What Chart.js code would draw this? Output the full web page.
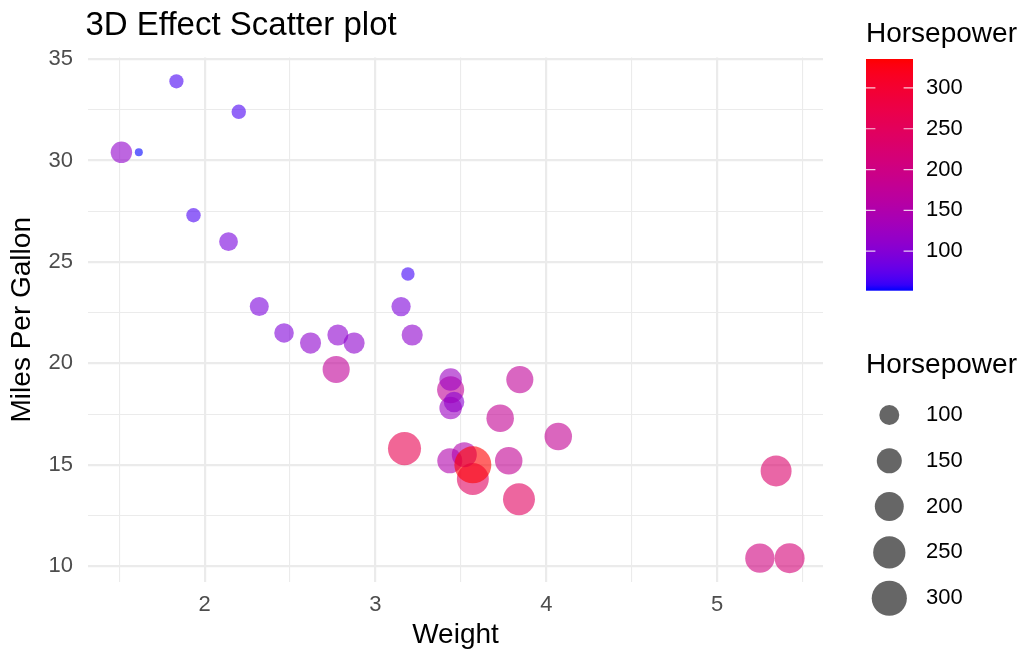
<!DOCTYPE html>
<html>
<head>
<meta charset="utf-8">
<title>3D Effect Scatter plot</title>
<script src="https://cdn.jsdelivr.net/npm/chart.js@4.4.1/dist/chart.umd.min.js"></script>
<style>
  html, body { margin: 0; padding: 0; background: #fff; }
  #wrap { width: 1029px; height: 654px; }
</style>
</head>
<body>
<div id="wrap"><canvas id="chart" width="1029" height="654"></canvas></div>
<script>
"use strict";
// mtcars: weight (1000 lbs), miles per gallon, gross horsepower
const weight = [2.620, 2.875, 2.320, 3.215, 3.440, 3.460, 3.570, 3.190, 3.150, 3.440, 3.440,
  4.070, 3.730, 3.780, 5.250, 5.424, 5.345, 2.200, 1.615, 1.835, 2.465, 3.520,
  3.435, 3.840, 3.845, 1.935, 2.140, 1.513, 3.170, 2.770, 3.570, 2.780];
const mpg = [21.0, 21.0, 22.8, 21.4, 18.7, 18.1, 14.3, 24.4, 22.8, 19.2, 17.8,
  16.4, 17.3, 15.2, 10.4, 10.4, 14.7, 32.4, 30.4, 33.9, 21.5, 15.5,
  15.2, 13.3, 19.2, 27.3, 26.0, 30.4, 15.8, 19.7, 15.0, 21.4];
const horsepower = [110, 110, 93, 110, 175, 105, 245, 62, 95, 123, 123,
  180, 180, 180, 205, 215, 230, 66, 52, 65, 97, 150,
  150, 245, 175, 66, 91, 113, 264, 175, 335, 109];

const xTicks = [1.5, 2, 2.5, 3, 3.5, 4, 4.5, 5, 5.5];
const yTicks = [10, 12.5, 15, 17.5, 20, 22.5, 25, 27.5, 30, 32.5, 35];
const legendBreaks = [100, 150, 200, 250, 300];

const chartTitle = "3D Effect Scatter plot";
const xTitle = "Weight";
const yTitle = "Miles Per Gallon";
const legendTitle = "Horsepower";

const FONT = "'Liberation Sans', Arial, sans-serif";
const ALPHA = 0.6;
const hpMin = Math.min(...horsepower);
const hpMax = Math.max(...horsepower);

// colour scale: blue -> red interpolated in Lab, like scale_colour_gradient
const WHITE = [0.95047, 1, 1.08883];
function toLinear(c) { c /= 255; return c <= 0.04045 ? c / 12.92 : Math.pow((c + 0.055) / 1.055, 2.4); }
function fromLinear(c) {
  const v = c <= 0.0031308 ? 12.92 * c : 1.055 * Math.pow(c, 1 / 2.4) - 0.055;
  return Math.round(Math.max(0, Math.min(1, v)) * 255);
}
function rgbToLab(rgb) {
  const R = toLinear(rgb[0]), G = toLinear(rgb[1]), B = toLinear(rgb[2]);
  const X = (R * 0.4124564 + G * 0.3575761 + B * 0.1804375) / WHITE[0];
  const Y = (R * 0.2126729 + G * 0.7151522 + B * 0.0721750) / WHITE[1];
  const Z = (R * 0.0193339 + G * 0.1191920 + B * 0.9503041) / WHITE[2];
  const f = t => t > 0.008856 ? Math.cbrt(t) : (7.787 * t + 16 / 116);
  const fx = f(X), fy = f(Y), fz = f(Z);
  return [116 * fy - 16, 500 * (fx - fy), 200 * (fy - fz)];
}
function labToRgb(lab) {
  const fy = (lab[0] + 16) / 116, fx = fy + lab[1] / 500, fz = fy - lab[2] / 200;
  const inv = t => t * t * t > 0.008856 ? t * t * t : (t - 16 / 116) / 7.787;
  const X = inv(fx) * WHITE[0], Y = inv(fy) * WHITE[1], Z = inv(fz) * WHITE[2];
  const R = X * 3.2404542 - Y * 1.5371385 - Z * 0.4985314;
  const G = -X * 0.9692660 + Y * 1.8760108 + Z * 0.0415560;
  const B = X * 0.0556434 - Y * 0.2040259 + Z * 1.0572252;
  return [fromLinear(R), fromLinear(G), fromLinear(B)];
}
const labLow = rgbToLab([0, 0, 255]);
const labHigh = rgbToLab([255, 0, 0]);
function hpColor(hp, alpha) {
  const t = (hp - hpMin) / (hpMax - hpMin);
  const c = labToRgb(labLow.map((v, i) => v + (labHigh[i] - v) * t));
  return `rgba(${c[0]},${c[1]},${c[2]},${alpha})`;
}
// size scale: area proportional, radius 4..18.5 px
function hpRadius(hp) {
  return 4 + 14.5 * Math.sqrt((hp - hpMin) / (hpMax - hpMin));
}

const isMajorX = v => Math.abs(v - Math.round(v)) < 1e-9;
const isMajorY = v => Math.abs(v / 5 - Math.round(v / 5)) < 1e-9;

const legendPlugin = {
  id: "legends",
  afterDraw(chart) {
    const ctx = chart.ctx;
    ctx.save();
    // plot title
    ctx.fillStyle = "#000";
    ctx.font = `33px ${FONT}`;
    ctx.textAlign = "left";
    ctx.textBaseline = "alphabetic";
    ctx.fillText(chartTitle, 85.5, 35);

    // colour bar
    ctx.font = `28px ${FONT}`;
    ctx.fillText(legendTitle, 866, 41.7);
    const barL = 866, barR = 913, barT = 59, barB = 290.7;
    const grad = ctx.createLinearGradient(0, barB, 0, barT);
    for (let i = 0; i <= 40; i++) {
      const hp = hpMin + (hpMax - hpMin) * i / 40;
      grad.addColorStop(i / 40, hpColor(hp, 1));
    }
    ctx.fillStyle = grad;
    ctx.fillRect(barL, barT, barR - barL, barB - barT);
    const barH = barB - barT;
    const nbin = 300;
    const tickY = v => barB - (((v - hpMin) / (hpMax - hpMin)) * (nbin - 1) / nbin + 0.5 / nbin) * barH;
    ctx.strokeStyle = "rgba(255,255,255,0.8)";
    ctx.lineWidth = 1.2;
    ctx.font = `22px ${FONT}`;
    ctx.textBaseline = "middle";
    legendBreaks.forEach(v => {
      const y = tickY(v);
      ctx.beginPath();
      ctx.moveTo(barL, y); ctx.lineTo(barL + 9.4, y);
      ctx.moveTo(barR - 9.4, y); ctx.lineTo(barR, y);
      ctx.stroke();
      ctx.fillStyle = "#000";
      ctx.fillText(String(v), 926, y);
    });

    // size legend
    ctx.textBaseline = "alphabetic";
    ctx.font = `28px ${FONT}`;
    ctx.fillText(legendTitle, 866, 373.3);
    ctx.font = `22px ${FONT}`;
    ctx.textBaseline = "middle";
    legendBreaks.forEach((v, i) => {
      const cy = 415 + 45.8 * i;
      ctx.beginPath();
      ctx.arc(889.3, cy, hpRadius(v), 0, Math.PI * 2);
      ctx.fillStyle = `rgba(0,0,0,${ALPHA})`;
      ctx.fill();
      ctx.fillStyle = "#000";
      ctx.fillText(String(v), 926, cy);
    });
    ctx.restore();
  }
};

const points = weight.map((w, i) => ({ x: w, y: mpg[i] }));

new Chart(document.getElementById("chart").getContext("2d"), {
  type: "scatter",
  data: {
    datasets: [{
      label: legendTitle,
      data: points,
      pointBackgroundColor: horsepower.map(hp => hpColor(hp, ALPHA)),
      pointBorderWidth: 0,
      pointBorderColor: "rgba(0,0,0,0)",
      pointRadius: horsepower.map(hpRadius),
      pointHoverRadius: horsepower.map(hpRadius)
    }]
  },
  options: {
    responsive: false,
    animation: false,
    devicePixelRatio: 1,
    layout: { padding: { top: 57.5, right: 206, left: 0, bottom: 0 } },
    plugins: {
      legend: { display: false },
      tooltip: { enabled: false },
      title: { display: false }
    },
    scales: {
      x: {
        type: "linear",
        min: 1.3175,
        max: 5.6195,
        afterBuildTicks: s => { s.ticks = xTicks.map(v => ({ value: v })); },
        afterFit: s => { s.height = 72; },
        border: { display: false },
        grid: {
          drawTicks: false,
          color: "#EBEBEB",
          lineWidth: c => (c.tick && isMajorX(c.tick.value)) ? 2.2 : 1.1
        },
        ticks: {
          autoSkip: false,
          maxRotation: 0,
          padding: 10,
          color: "#4D4D4D",
          font: { family: FONT, size: 22 },
          callback: v => isMajorX(v) ? String(v) : ""
        },
        title: {
          display: true,
          text: xTitle,
          color: "#000",
          font: { family: FONT, size: 28 },
          padding: { top: 0, bottom: 2 }
        }
      },
      y: {
        type: "linear",
        min: 9.225,
        max: 35.075,
        afterBuildTicks: s => { s.ticks = yTicks.map(v => ({ value: v })); },
        afterFit: s => { s.width = 88; },
        border: { display: false },
        grid: {
          drawTicks: false,
          color: "#EBEBEB",
          lineWidth: c => (c.tick && isMajorY(c.tick.value)) ? 2.2 : 1.1
        },
        ticks: {
          autoSkip: false,
          padding: 15,
          color: "#4D4D4D",
          font: { family: FONT, size: 22 },
          callback: v => isMajorY(v) ? String(v) : ""
        },
        title: {
          display: true,
          text: yTitle,
          color: "#000",
          font: { family: FONT, size: 28 },
          padding: { top: 5, bottom: 0 }
        }
      }
    }
  },
  plugins: [legendPlugin]
});
</script>
</body>
</html>
